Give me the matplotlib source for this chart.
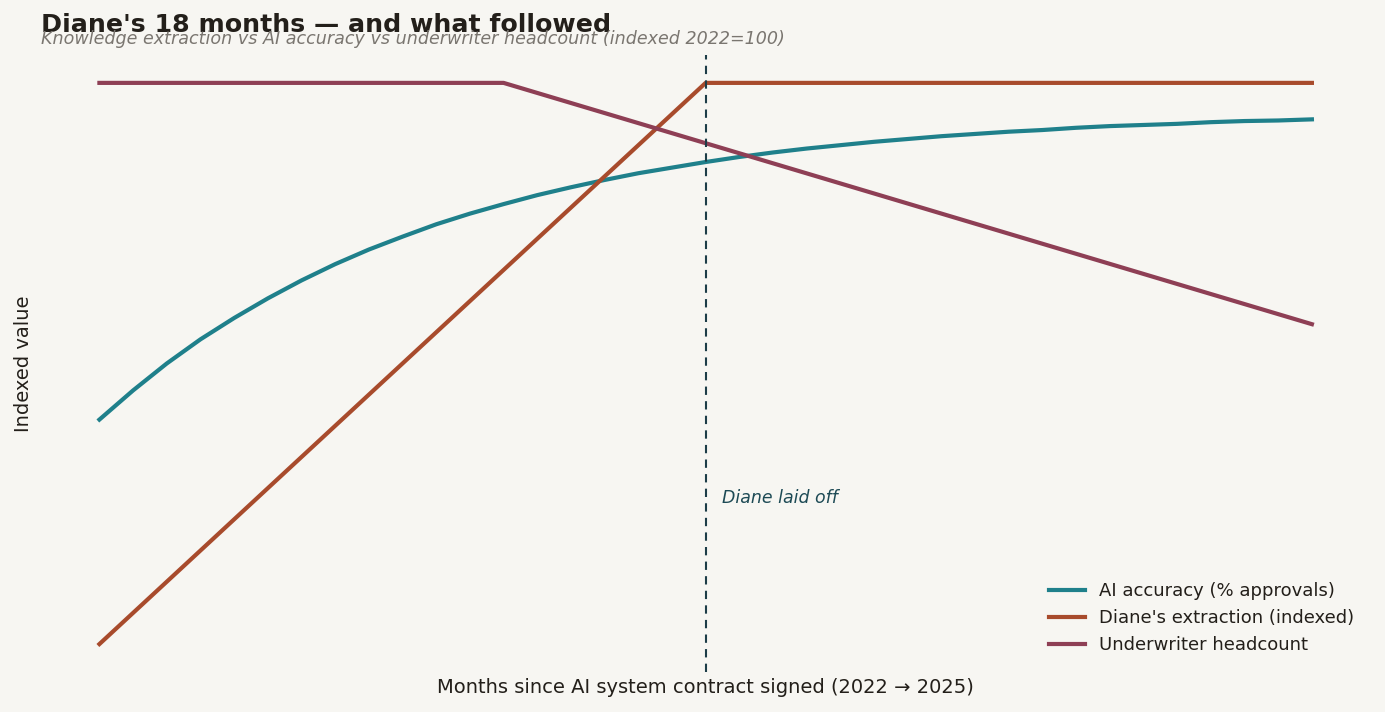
import matplotlib
matplotlib.use("Agg")
import matplotlib.pyplot as plt

BG = "#f7f6f2"
TEAL = "#1f808b"
RUST = "#a84b2c"
PLUM = "#8e3f55"
VLINE = "#1d3d48"
INK = "#231f1a"

months = list(range(0, 37))
ai_accuracy = [40.0, 45.2, 50.0, 54.3, 58.1, 61.6, 64.8, 67.7, 70.3, 72.6,
               74.8, 76.7, 78.4, 80.0, 81.4, 82.7, 83.9, 84.9, 85.9, 86.8,
               87.6, 88.3, 88.9, 89.5, 90.0, 90.5, 90.9, 91.3, 91.6, 92.0,
               92.3, 92.5, 92.7, 93.0, 93.2, 93.3, 93.5]
extraction_months = [0, 18, 36]
extraction = [0, 100, 100]
headcount_months = [0, 12, 36]
headcount = [100, 100, 57]
layoff_month = 18

plt.rcParams["font.family"] = "DejaVu Sans"
fig = plt.figure(figsize=(13.85, 7.12), dpi=100)
fig.patch.set_facecolor(BG)
ax = fig.add_axes([0.028, 0.056, 0.963, 0.867])
ax.set_facecolor(BG)

ax.plot(months, ai_accuracy, color=TEAL, lw=3, label="AI accuracy (% approvals)")
ax.plot(extraction_months, extraction, color=RUST, lw=3, label="Diane's extraction (indexed)")
ax.plot(headcount_months, headcount, color=PLUM, lw=3, label="Underwriter headcount")
ax.axvline(layoff_month, color=VLINE, lw=1.5, ls=(0, (4, 3)))
ax.text(layoff_month + 0.5, 26, "Diane laid off", color="#1d4a55", fontsize=12.5,
        style="italic", va="center", ha="left")

ax.set_xticks([]); ax.set_yticks([])
for s in ax.spines.values():
    s.set_visible(False)
ax.set_xlabel("Months since AI system contract signed (2022 \u2192 2025)", fontsize=14, color=INK)
ax.set_ylabel("Indexed value", fontsize=14, color=INK)

leg = ax.legend(loc="lower right", frameon=False, fontsize=13, handlelength=2.0,
                borderaxespad=0.6)
for t in leg.get_texts():
    t.set_color(INK)

fig.text(41 / 1385, 1 - 25 / 712, "Diane's 18 months \u2014 and what followed", fontsize=18.2,
         fontweight="bold", color=INK, va="center", ha="left")
fig.text(41 / 1385, 1 - 39 / 712,
         "Knowledge extraction vs AI accuracy vs underwriter headcount (indexed 2022=100)",
         fontsize=12.6, style="italic", color="#7a7670", va="center", ha="left")

fig.savefig("out.png", dpi=100, facecolor=BG)
